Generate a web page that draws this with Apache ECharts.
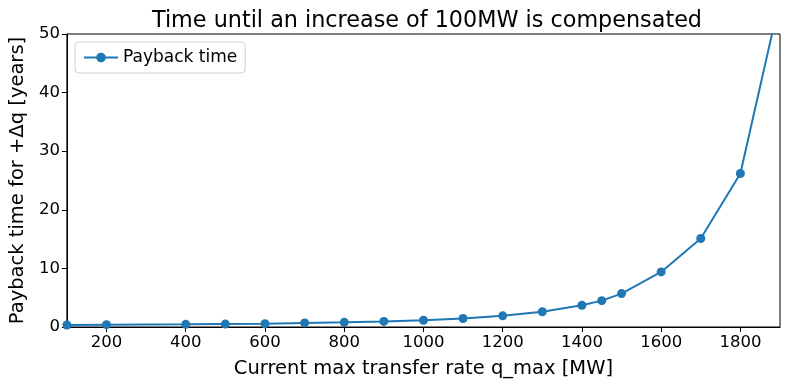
<!DOCTYPE html>
<html>
<head>
<meta charset="utf-8">
<script src="https://cdn.jsdelivr.net/npm/echarts@6/dist/echarts.min.js"></script>
<style>
html, body {margin: 0; padding: 0; background: #fff;}
#chartBox {width: 790px; height: 390px;}
</style>
</head>
<body>
<div id="chartBox"></div>
<script>
// 数据
let qMax = [100, 200, 400, 500, 600, 700, 800, 900, 1000, 1100, 1200, 1300, 1400, 1450, 1500, 1600, 1700, 1800, 1900];
let payback = [0.35, 0.4, 0.45, 0.5, 0.55, 0.7, 0.8, 0.95, 1.15, 1.45, 1.9, 2.6, 3.7, 4.5, 5.7, 9.4, 15.1, 26.2, 56];
let xTicks = [200, 400, 600, 800, 1000, 1200, 1400, 1600, 1800];

let font = 'DejaVu Sans';
let chartBox = echarts.init(document.getElementById('chartBox'));
let option = {
    animation: false,
    title: {
        text: 'Time until an increase of 100MW is compensated',
        left: 422, top: 5, textAlign: 'center',
        textStyle: {fontFamily: font, fontSize: 22.3, fontWeight: 'normal', color: '#000'}
    },
    grid: {left: 65, right: 10, top: 34, bottom: 63, show: true, borderColor: '#000', borderWidth: 1, containLabel: false},
    legend: {
        left: 75, top: 42, padding: [7, 8, 7, 8],
        borderColor: '#d0d0d0', borderWidth: 1, borderRadius: 4,
        itemWidth: 34, itemHeight: 12, itemGap: 8,
        textStyle: {fontFamily: font, fontSize: 17, color: '#000'},
        data: ['Payback time']
    },
    xAxis: {
        type: 'value', min: 100, max: 1900,
        name: 'Current max transfer rate q_max [MW]', nameLocation: 'middle', nameGap: 32,
        nameTextStyle: {fontFamily: font, fontSize: 19.5, color: '#000'},
        axisLine: {show: true, lineStyle: {color: '#000', width: 1}},
        axisTick: {show: true, length: 5, inside: false, customValues: xTicks, lineStyle: {color: '#000'}},
        axisLabel: {
            customValues: xTicks, fontFamily: font, fontSize: 16.5, color: '#000', margin: 7,
            formatter: function (v) { return String(v); }
        },
        splitLine: {show: false}
    },
    yAxis: {
        type: 'value', min: 0, max: 50, interval: 10,
        name: 'Payback time for +Δq [years]', nameLocation: 'middle', nameGap: 38,
        nameTextStyle: {fontFamily: font, fontSize: 19.5, color: '#000'},
        axisLine: {show: true, lineStyle: {color: '#000', width: 1}},
        axisTick: {show: true, length: 5, lineStyle: {color: '#000'}},
        axisLabel: {fontFamily: font, fontSize: 16.5, color: '#000', margin: 7},
        splitLine: {show: false}
    },
    series: [{
        name: 'Payback time',
        type: 'line',
        clip: true,
        symbol: 'circle',
        symbolSize: 9,
        color: '#1f77b4',
        lineStyle: {width: 2, color: '#1f77b4'},
        itemStyle: {color: '#1f77b4'},
        data: qMax.map(function (q, i) { return [q, payback[i]]; })
    }]
};
chartBox.setOption(option, true);
</script>
</body>
</html>
